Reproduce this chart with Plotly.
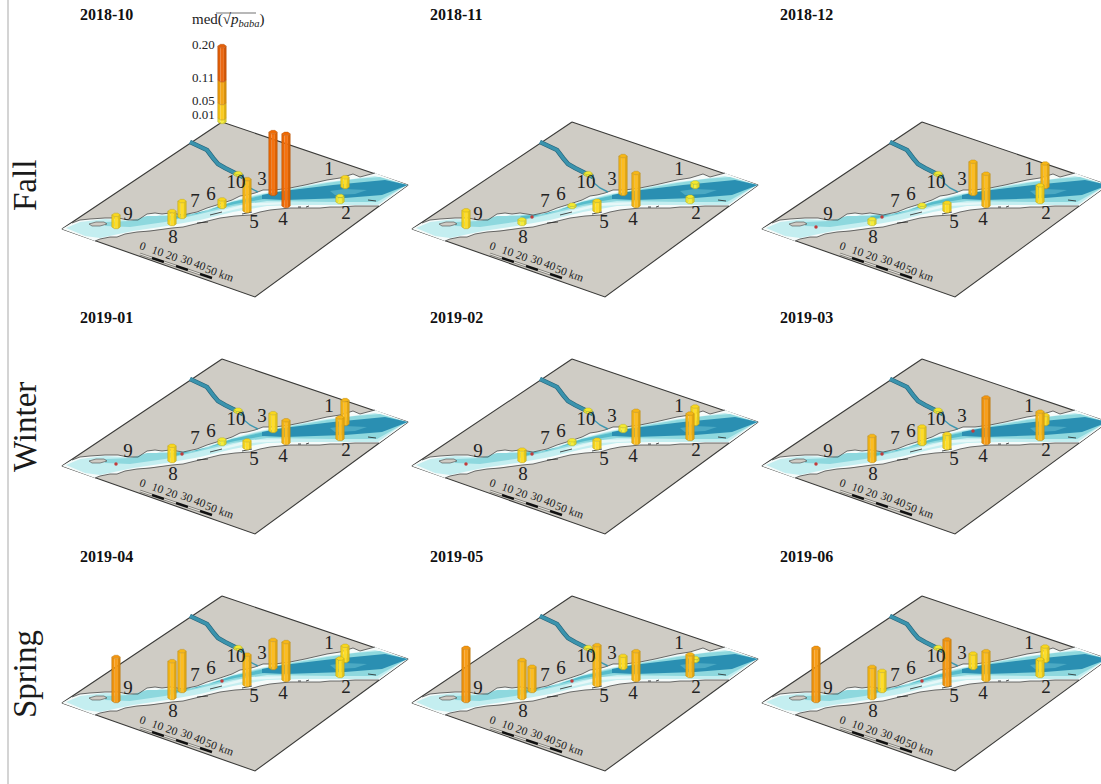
import plotly.graph_objects as go

MONTHS = ["2018-10","2018-11","2018-12","2019-01","2019-02","2019-03","2019-04","2019-05","2019-06"]
SEASONS = ["Fall","Winter","Spring"]
STATIONS = ["1","2","3","4","5","6","7","8","9","10"]
# median sqrt(p_baba) per month, stations 1..10 (0 = no detection)
V_2018_10 = [.026,.016,.163,.190,.084,.020,.042,.034,.032,.005]
V_2018_11 = [.012,.014,.100,.087,.027,.006,0,.012,.044,.005]
V_2018_12 = [.062,.044,.085,.085,.022,.006,0,.013,0,.005]
V_2019_01 = [.063,.057,.047,.060,.020,.012,0,.040,0,.006]
V_2019_02 = [.046,.067,.013,.085,.022,.010,0,.030,0,.006]
V_2019_03 = [.024,.072,0,.120,.037,.046,0,.066,0,.006]
V_2019_04 = [.040,.046,.074,.100,.080,0,.105,.097,.116,.005]
V_2019_05 = [.008,.057,.032,.076,.105,0,.064,.100,.140,.005]
V_2019_06 = [.038,.044,.038,.076,.120,0,.053,.082,.140,.005]
ALL_VALUES = [V_2018_10,V_2018_11,V_2018_12,V_2019_01,V_2019_02,V_2019_03,V_2019_04,V_2019_05,V_2019_06]
LEGEND_TICKS = [0.01,0.05,0.11,0.20]
LEGEND_LABELS = ["0.01","0.05","0.11","0.20"]
SCALE_KM = ["0","10","20","30","40","50 km"]

# map geometry in panel coordinates
LAND = [(222,122),(408,185),(255,297),(62,229)]
NORTH_SHORE = [(72,223),(80,220),(90,219),(105,218),(118,218),(128,220),(138,220),(147,214),(155,213),(162,214),(170,213),(183,215),(197,212),(207,208),(220,204),(232,200),(240,196),(247,195),(255,193),(263,190),(275,190),(290,188),(305,185),(318,182),(327,180),(340,178),(347,176),(353,174),(360,177),(368,175),(375,173)]
SOUTH_SHORE = [(95,241),(100,239),(110,237),(117,237),(125,234),(137,232),(150,231),(163,229),(172,228),(183,227),(195,224),(203,222),(212,220),(220,218),(235,216),(250,215),(260,212),(270,210),(280,209),(290,208),(305,208),(320,208),(330,207),(340,207),(355,206),(367,206),(379,206)]
WATER_LIGHT = [(66,228),(80,222),(105,219),(140,221),(160,215),(197,213),(232,201),(255,195),(275,191),(327,182),(345,180),(375,176),(406,185),(378,205),(333,205),(300,205),(267,206),(233,212),(200,220),(167,226),(133,231),(100,238),(85,236)]
WATER_MID = [(105,222),(130,221),(147,216),(165,216),(197,214),(232,202),(255,196),(275,192),(327,183),(355,179),(380,177),(407,185),(377,202),(333,202),(267,201),(233,206),(200,214),(165,222),(130,227),(105,226)]
WATER_DEEP = [(170,216),(197,214),(232,202),(255,197),(270,194),(270,198),(235,204),(200,212),(175,219)]
WATER_STREAK = [(215,212),(250,203),(290,202),(290,204),(250,206),(220,213)]
WATER_DARK = [(262,195),(283,191),(333,185),(370,181),(385,180),(408,185),(382,195),(345,198),(310,199),(285,200),(262,199)]
WATER_PATCH = [(330,191),(345,189),(367,190),(355,194),(335,195)]
ISLAND = [(89,224),(96,222),(104,222),(107,224),(100,226),(92,226)]
RIVER = [(190,142),(198,146),(207,150),(213,158),(218,164),(225,168),(233,172),(243,177)]
RIVER_LOW = [(243,177),(244,183),(250,188),(258,192)]
DASHES = [[(210,215),(222,212)],[(197,223),(208,222)],[(242,214),(252,212)],[(298,207),(301,207)],[(306,207),(309,206)],[(368,200),(376,201)]]
STATION_X = [345,340,273,286,247,222,182,172,116,238]
STATION_Y = [187,202,194,206,211,207,217,224,227,175]
LABEL_X = [329,346,262,283,254,211,195,173,128,236]
LABEL_Y = [170,214,180,220,223,195,202,238,215,183]
SCALE_START = (140,254)
SCALE_END = (212,278)
SCALE_TEXT_X = [143,158,172,187,200,219]
SCALE_TEXT_Y = [246,251,256,260,265,273]
LEGEND_X, LEGEND_Y = 222, 122

PX_PER_UNIT = 380.0
HALF_W = 4.2
CAP_H = 1.7
SERIF = "Liberation Serif"
W_FIG, H_FIG = 1101, 784
COL_DX, ROW_DY = 350, 237
PANEL_W, PANEL_H = 420, 300

def shade(hexc, f):
    r,g,b = int(hexc[1:3],16),int(hexc[3:5],16),int(hexc[5:7],16)
    if f<1:
        r,g,b = r*f,g*f,b*f
    else:
        k=f-1
        r,g,b = r+(255-r)*k,g+(255-g)*k,b+(255-b)*k
    return "#%02x%02x%02x"%(int(r),int(g),int(b))

def colour(v):
    if v < .02: return "#f8ee30"
    if v < .055: return "#ffdc1e"
    if v < .11: return "#fdbb17"
    if v < .15: return "#f99a10"
    return "#f56d05"

fig = go.Figure()

def poly(pts, color, ax, line=None, lw=0):
    fig.add_trace(go.Scatter(
        x=[p[0] for p in pts]+[pts[0][0]], y=[p[1] for p in pts]+[pts[0][1]],
        mode="lines", fill="toself", fillcolor=color,
        line=dict(color=line or color, width=lw), hoverinfo="skip", showlegend=False,
        xaxis=ax[0], yaxis=ax[1]))

def path(pts, color, width, ax):
    fig.add_trace(go.Scatter(
        x=[p[0] for p in pts], y=[p[1] for p in pts], mode="lines",
        line=dict(color=color, width=width), hoverinfo="skip", showlegend=False,
        xaxis=ax[0], yaxis=ax[1]))

def prism(x, y0, y1, col, ax, cap=True):
    """one hexagonal column segment from pixel level y0 (bottom) to y1 (top)"""
    w, c = HALF_W, CAP_H
    xa, xb, xc, xd = x-w, x-w*.35, x+w*.45, x+w
    outline = shade(col, .72)
    poly([(xa,y1),(xb,y1+c),(xb,y0+c),(xa,y0)], shade(col,.96), ax)
    poly([(xb,y1+c),(xc,y1+c),(xc,y0+c),(xb,y0+c)], shade(col,1.04), ax)
    poly([(xc,y1+c),(xd,y1),(xd,y0),(xc,y0+c)], shade(col,.9), ax)
    if cap:
        poly([(xa,y1),(xb,y1-c),(xc,y1-c),(xd,y1),(xc,y1+c),(xb,y1+c)], shade(col,.98), ax, outline, .4)
    path([(xa,y1),(xa,y0),(xb,y0+c),(xc,y0+c),(xd,y0),(xd,y1)], outline, .5, ax)

layout = dict(width=W_FIG, height=H_FIG, margin=dict(l=0,r=0,t=0,b=0),
              paper_bgcolor="white", plot_bgcolor="rgba(0,0,0,0)", showlegend=False)
annotations = []

for i, (month, vals) in enumerate(zip(MONTHS, ALL_VALUES)):
    row, col = i//3, i%3
    sfx = "" if i == 0 else str(i+1)
    ax = ("x"+sfx, "y"+sfx)
    w = min(PANEL_W, W_FIG-col*COL_DX)
    layout["xaxis"+sfx] = dict(domain=[col*COL_DX/W_FIG,(col*COL_DX+w)/W_FIG], range=[0,w], visible=False, fixedrange=True, anchor="y"+sfx)
    top = row*ROW_DY
    layout["yaxis"+sfx] = dict(domain=[1-(top+PANEL_H)/H_FIG,1-top/H_FIG], range=[PANEL_H,0], visible=False, fixedrange=True, anchor="x"+sfx)

    poly(LAND, "#cfccc5", ax, "#3a3a38", 1.1)
    poly(NORTH_SHORE+[LAND[1]]+SOUTH_SHORE[::-1]+[LAND[3]], "#f6fbfa", ax)
    poly(WATER_LIGHT, "#c4eef0", ax)
    poly(WATER_MID, "#8ed8de", ax)
    poly(WATER_DEEP, "#56bccb", ax)
    poly(WATER_STREAK, "#e6f8f8", ax)
    poly(WATER_DARK, "#2a8fb2", ax)
    poly(WATER_PATCH, "#4ba9c3", ax)
    poly(ISLAND, "#cfccc5", ax, "#444444", .6)
    path(NORTH_SHORE, "#333333", .7, ax)
    path(SOUTH_SHORE, "#333333", .7, ax)
    for d in DASHES:
        path(d, "#222222", .8, ax)
    path(RIVER, "#25637a", 4.6, ax)
    path(RIVER, "#3a93ad", 3.4, ax)
    path(RIVER_LOW, "#3d98b0", 1.4, ax)

    # scale bar
    sx, sy = SCALE_START; ex, ey = SCALE_END
    for k in range(6):
        a = (sx+(ex-sx)*k/6, sy+(ey-sy)*k/6)
        b = (sx+(ex-sx)*(k+1)/6, sy+(ey-sy)*(k+1)/6)
        if k % 2 == 1:
            path([a,b], "#111111", 2.4, ax)
        else:
            path([a,b], "#77756f", 2.4, ax)
            path([a,b], "#e4e2dc", 1.2, ax)
    for txt, tx, ty in zip(SCALE_KM, SCALE_TEXT_X, SCALE_TEXT_Y):
        annotations.append(dict(text=txt, x=tx, y=ty, xref=ax[0], yref=ax[1], showarrow=False, textangle=20,
                                font=dict(family=SERIF, size=11.5, color="#222222")))

    # columns, drawn back to front
    order = sorted(range(10), key=lambda s: STATION_Y[s])
    for s in order:
        v = vals[s]
        x, y = STATION_X[s], STATION_Y[s]
        if v == 0:
            fig.add_trace(go.Scatter(x=[x], y=[y], mode="markers", marker=dict(color="#c23b3b", size=3.5),
                                     hoverinfo="skip", showlegend=False, xaxis=ax[0], yaxis=ax[1]))
        else:
            prism(x, y, y-v*PX_PER_UNIT, colour(v), ax)

    # station numbers
    fig.add_trace(go.Scatter(x=LABEL_X, y=LABEL_Y, mode="text", text=STATIONS,
                             textfont=dict(family=SERIF, size=19, color="#222222"),
                             hoverinfo="skip", showlegend=False, xaxis=ax[0], yaxis=ax[1]))

    # panel title
    title_y = 14 if row == 0 else {1:318,2:556}[row]
    annotations.append(dict(text="<b>%s</b>"%month, x=(78+col*COL_DX)/W_FIG, y=1-title_y/H_FIG, xref="paper", yref="paper",
                            xanchor="left", yanchor="middle", showarrow=False,
                            font=dict(family=SERIF, size=16, color="#111111")))

# value key on the first panel
key_cols = ["#f6ec36","#fbc916","#f3a30f","#ea620a"]
lo = 0
for t, c in zip(LEGEND_TICKS, key_cols):
    prism(LEGEND_X, LEGEND_Y-lo*PX_PER_UNIT, LEGEND_Y-t*PX_PER_UNIT, c, ("x","y"), cap=(t==LEGEND_TICKS[-1]))
    lo = t
for t, lab, ly in zip(LEGEND_TICKS, LEGEND_LABELS, [114,100,77,44]):
    annotations.append(dict(text=lab, x=203, y=ly, xref="x", yref="y", showarrow=False,
                            font=dict(family=SERIF, size=13, color="#222222")))
annotations.append(dict(text="med(√<i>p</i><sub><i>baba</i></sub>)", x=228, y=20, xref="x", yref="y", showarrow=False,
                        font=dict(family=SERIF, size=15, color="#222222")))
path([(216,13),(256,13)], "#333333", .7, ("x","y"))

for name, yc in zip(SEASONS, [186,427,674]):
    annotations.append(dict(text=name, x=25/W_FIG, y=1-yc/H_FIG, xref="paper", yref="paper", xanchor="center", yanchor="middle",
                            showarrow=False, textangle=-90,
                            font=dict(family=SERIF, size=33, color="#1a1a1a")))

layout["annotations"] = annotations
layout["shapes"] = [dict(type="line", xref="paper", yref="paper", x0=8/W_FIG, x1=8/W_FIG, y0=0, y1=1,
                         line=dict(color="#a9a9a9", width=1))]
fig.update_layout(**layout)
fig.write_html("out.html", config={"displayModeBar": False},
               post_script="document.body.style.margin='0';document.documentElement.style.overflow='hidden';")
